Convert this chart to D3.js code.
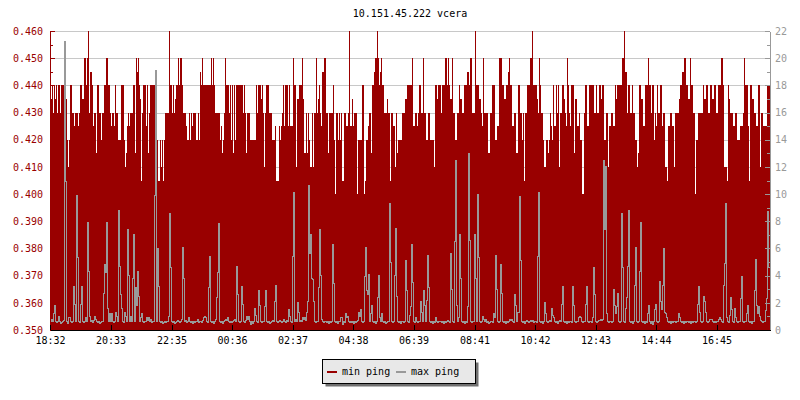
<!DOCTYPE html>
<html><head><meta charset="utf-8">
<script src="https://cdn.jsdelivr.net/npm/d3@7"></script>
<style>
body{margin:0;background:#fff}
svg{display:block}
text{font-family:"DejaVu Sans Mono",monospace;font-size:10px}
</style>
</head><body>
<svg id="chart" width="800" height="400"></svg>
<script>
const chartTitle = "10.151.45.222 vcera";
const startLabel = "18:32";
const sampleMinutes = 2;
const xTickLabels = ["18:32","20:33","22:35","00:36","02:37","04:38","06:39","08:41","10:42","12:43","14:44","16:45"];
const leftTicks = [0.35,0.36,0.37,0.38,0.39,0.40,0.41,0.42,0.43,0.44,0.45,0.46];
const rightTicks = [0,2,4,6,8,10,12,14,16,18,20,22];
const seriesNames = ["min ping","max ping"];

// min ping (ms), one value per sample
const minPing = [
.44,.435,.44,.43,.44,.435,.44,.43,.44,.44,.43,.44,.44,.44,.44,.435,.435,.42,.41,.42,.44,.44,.43,.43,.425,.43,.43,.43,.425,.43,
.44,.44,.435,.435,.45,.45,.44,.45,.46,.43,.445,.445,.44,.425,.43,.43,.415,.44,.44,.43,.43,.42,.43,.43,.44,.44,.45,.45,.44,.44,
.43,.425,.43,.43,.425,.44,.43,.43,.42,.42,.42,.44,.44,.44,.42,.41,.415,.425,.43,.425,.43,.43,.43,.44,.44,.415,.45,.445,.45,.44,
.435,.405,.43,.44,.44,.44,.425,.44,.415,.43,.44,.44,.44,.44,.44,.43,.41,.42,.405,.405,.42,.41,.42,.405,.42,.43,.43,.43,.43,.46,
.44,.44,.43,.44,.43,.435,.44,.44,.45,.44,.45,.45,.44,.43,.43,.43,.425,.42,.42,.43,.42,.43,.425,.43,.43,.43,.42,.42,.43,.42,
.445,.44,.45,.44,.44,.44,.44,.44,.44,.44,.44,.45,.44,.45,.44,.43,.43,.43,.43,.43,.42,.425,.415,.42,.43,.45,.44,.44,.44,.43,
.44,.42,.44,.415,.44,.42,.44,.44,.44,.44,.44,.44,.44,.43,.44,.43,.415,.43,.43,.43,.42,.42,.42,.42,.42,.42,.44,.43,.44,.44,
.44,.435,.44,.43,.41,.43,.44,.44,.44,.43,.43,.43,.42,.42,.42,.425,.405,.405,.405,.425,.42,.425,.43,.44,.425,.44,.44,.44,.425,.44,
.425,.425,.425,.45,.44,.44,.41,.435,.435,.44,.44,.44,.45,.435,.415,.415,.43,.415,.43,.42,.41,.41,.43,.41,.43,.43,.45,.43,.435,.44,
.43,.425,.445,.445,.45,.45,.43,.43,.415,.43,.43,.43,.43,.44,.42,.40,.43,.43,.42,.43,.42,.43,.405,.405,.43,.43,.425,.425,.43,.46,
.425,.425,.435,.425,.43,.43,.43,.40,.42,.42,.42,.42,.44,.44,.40,.405,.42,.42,.425,.43,.43,.415,.44,.44,.445,.45,.45,.46,.45,.44,
.445,.45,.44,.44,.43,.43,.43,.435,.43,.43,.405,.43,.43,.425,.425,.41,.43,.415,.42,.42,.42,.42,.43,.43,.43,.435,.435,.44,.44,.44,
.44,.44,.45,.425,.425,.43,.43,.425,.43,.44,.44,.43,.43,.45,.43,.43,.42,.42,.43,.43,.42,.42,.42,.42,.41,.44,.44,.435,.44,.44,
.44,.43,.44,.44,.44,.45,.45,.44,.45,.44,.435,.435,.45,.43,.43,.42,.42,.43,.43,.44,.435,.435,.43,.43,.44,.44,.44,.445,.445,.44,
.45,.45,.43,.43,.43,.46,.44,.44,.44,.435,.435,.43,.425,.45,.43,.43,.43,.43,.415,.415,.43,.43,.44,.44,.44,.42,.42,.425,.425,.45,
.45,.45,.44,.44,.435,.435,.44,.44,.445,.45,.44,.44,.425,.425,.43,.43,.415,.415,.44,.44,.43,.43,.42,.43,.405,.43,.43,.44,.44,.44,
.45,.45,.46,.44,.44,.44,.44,.435,.43,.45,.44,.43,.43,.42,.41,.41,.42,.42,.415,.42,.43,.425,.42,.44,.425,.425,.44,.43,.44,.41,
.43,.43,.44,.44,.435,.43,.425,.45,.44,.43,.425,.44,.44,.44,.415,.435,.435,.425,.425,.43,.42,.42,.40,.40,.43,.44,.44,.425,.425,.44,
.44,.44,.44,.44,.43,.43,.44,.43,.43,.44,.44,.435,.44,.44,.42,.42,.43,.43,.41,.425,.425,.43,.43,.425,.425,.44,.435,.44,.44,.44,
.44,.44,.45,.45,.46,.445,.445,.43,.44,.44,.43,.43,.44,.43,.43,.42,.42,.41,.415,.44,.44,.435,.435,.425,.425,.44,.44,.44,.45,.44,
.44,.43,.44,.44,.42,.43,.425,.44,.43,.43,.44,.44,.425,.43,.43,.41,.41,.405,.425,.425,.43,.43,.425,.425,.41,.43,.43,.43,.43,.435,
.44,.44,.445,.445,.45,.45,.44,.44,.435,.435,.45,.44,.44,.43,.43,.40,.42,.42,.43,.43,.43,.43,.43,.44,.435,.435,.44,.44,.43,.43,
.44,.44,.435,.435,.44,.44,.43,.43,.44,.44,.44,.45,.45,.44,.41,.41,.41,.405,.44,.435,.43,.43,.43,.425,.425,.43,.43,.42,.42,.42,
.425,.425,.425,.43,.45,.44,.44,.44,.425,.405,.44,.44,.435,.435,.43,.43,.425,.425,.44,.44,.41,.43,.43,.425,.425,.425,.425,.44,.44,.44
];

// max ping (ms), one value per sample
const maxPing = [
.6,.8,.6,1.2,1.8,.6,.55,.6,1.0,.6,.5,.55,.6,.7,21.2,10.9,.6,.5,.9,.9,.6,.55,.6,3.2,1.9,.6,9.9,5.3,.6,.55,
1.9,3.2,.6,.55,.6,.9,.6,7.9,4.3,1.0,.6,.7,.55,.7,1.0,.8,.6,.55,.6,.5,.55,.6,.6,2.7,4.8,4.2,7.9,1.6,.6,1.2,
.6,1.2,.6,.55,.6,1.3,1.0,.6,8.8,4.7,2.6,1.6,.6,.55,1.3,1.0,.6,7.4,4.0,.6,1.0,.6,3.8,7.0,.6,3.1,1.8,4.3,2.5,.6,
.9,1.2,.6,.55,.6,.6,.9,.7,.9,.6,.8,.55,.6,.6,9.9,19.1,.6,6.0,3.2,.6,.55,.6,.5,.55,.6,.55,.6,.6,1.0,8.6,
4.6,.6,.55,.6,.5,.55,.6,.7,.6,.55,.6,.8,6.1,3.8,.6,.7,.55,.6,.9,.6,.55,.6,.5,.6,.55,.6,.6,.8,.55,.6,
.6,.55,.7,.9,1.0,.9,.6,.55,3.1,5.4,.6,.55,.6,.5,.6,.8,2.4,4.2,7.8,.6,.55,.6,.5,.6,.7,.8,.7,.9,.6,.55,
.6,.55,.6,.7,.8,.6,4.7,2.6,.6,.55,.6,3.2,1.9,.6,.55,.7,1.0,.8,1.0,.6,.4,.6,.5,.6,1.6,1.1,.6,.55,2.9,1.8,
.6,.55,.6,.6,1.7,2.9,.6,.55,.6,.5,.55,.6,.7,.6,2.1,3.3,.6,.55,.6,.7,.6,.55,.6,.8,.6,.55,.7,.6,1.5,1.0,
.6,.55,5.4,10.1,.6,.8,.6,2.0,1.3,.6,.7,.6,.9,.8,.9,.7,1.3,2.1,10.6,5.6,7.0,3.8,3.7,2.1,.6,.55,.6,.6,3.1,7.4,
4.0,.8,.6,.55,.6,.6,.55,.6,.5,.6,.55,.6,6.3,3.4,.6,.55,.6,.5,.6,.6,.9,.9,.4,.6,.55,1.2,.9,1.0,.6,.55,
.6,.55,.6,.5,.6,.55,.6,.7,1.3,1.0,1.5,.6,.55,.6,3.9,6.1,2.9,2.6,4.1,.6,1.2,1.8,.6,.55,.6,.5,.6,2.4,4.0,.9,
.6,1.2,.6,.55,.6,.5,.55,.6,.6,9.3,5.0,.6,.55,.6,4.0,7.5,2.5,.6,.55,.6,.5,.6,.6,.55,.6,5.1,2.9,.6,.55,1.1,
1.7,6.3,3.5,.6,.55,.9,.6,.55,.6,.6,2.1,1.3,.6,2.9,1.8,.6,2.2,5.5,3.1,.6,.55,.6,.5,.6,.55,.9,.6,.55,.6,.6,
.6,.55,.6,.5,.6,.55,.6,.7,.6,.55,5.6,3.0,.6,.55,6.5,12.5,1.8,.6,.9,7.0,3.8,.6,.55,.6,.5,.6,.55,1.7,13.0,6.6,
.6,.55,.6,.6,7.0,3.8,.6,10.0,5.3,.6,.55,.6,1.0,.8,.6,.8,.55,.6,.5,.55,.6,.6,.55,1.2,.9,5.5,3.0,.6,.55,.6,
4.8,2.7,.6,.55,.6,.5,.6,.55,.6,.8,.7,.8,.6,.55,2.6,1.8,.6,1.3,1.3,9.8,5.1,.6,.55,.6,.5,.6,.7,.6,.55,.6,
.7,.6,.7,.55,.6,.6,.55,5.4,10.1,.6,.55,.6,.5,.6,2.0,1.25,.6,.55,.6,.7,.6,1.6,1.1,.9,.6,.55,.6,.5,.6,.7,
.6,1.9,3.2,.6,.55,.6,.5,.6,.55,.6,.6,.55,3.2,1.8,.6,.55,.6,.6,.9,1.0,.9,.6,.55,.6,.6,1.9,3.2,.6,.55,.6,
.6,.55,.9,4.6,2.6,.6,.55,.6,.7,.7,.8,.7,.8,12.5,7.4,12.0,1.25,.6,.55,.6,.6,.55,.6,3.0,1.8,1.2,1.7,2.7,.6,.55,
.6,8.6,4.6,.6,.55,1.6,2.4,4.7,8.8,.6,.55,.6,.5,.6,3.3,6.1,.6,.55,.6,4.3,7.9,.6,.55,.6,.5,.6,.55,1.2,1.8,.6,
.5,.6,.4,.6,1.5,1.9,.6,.55,.6,3.6,2.1,1.5,3.3,6.0,1.3,1.2,.9,.6,.55,.6,.5,.6,.55,.6,.6,.55,.6,.6,1.25,.9,
.6,.55,.6,.5,.6,.55,.6,.6,.55,.6,.5,.6,.55,.6,.6,.55,.6,1.9,3.2,1.3,.6,.55,.6,2.5,2.1,1.3,.6,.55,.6,.8,
.8,.8,.6,.55,.6,.55,.6,.6,.8,.9,.8,.6,.55,3.3,4.9,9.3,.9,.6,.55,1.1,2.4,1.5,.6,.55,1.6,.9,.6,.55,.6,.6,
2.3,3.9,.6,.55,.6,.6,1.2,1.8,.6,.55,.6,.5,.6,.6,2.9,5.2,1.8,1.2,1.7,1.0,.7,.6,.55,.6,.6,1.4,2.3,8.75,4.6,4.6
];

const RED = "#990000", GREY = "#999999";
const svg = d3.select("#chart");
const L = 50, R = 770, T = 31, B = 330;

const [sh, sm] = startLabel.split(":").map(Number);
const t0 = new Date(2020, 0, 1, sh, sm);
const stepMs = sampleMinutes * 60000;
const tEnd = new Date(t0.getTime() + minPing.length * stepMs);

const x = d3.scaleTime().domain([t0, tEnd]).range([L, R]);
const yL = d3.scaleLinear().domain([0.35, 0.46]).range([B, T]);
const yR = d3.scaleLinear().domain([0, 22]).range([B, T]);

// tick dates (rolling over midnight)
let day = 1, prevH = -1;
const tickDates = xTickLabels.map(s => {
  const [h, m] = s.split(":").map(Number);
  if (h < prevH) day++;
  prevH = h;
  return new Date(2020, 0, day, h, m);
});

// title
svg.append("text").attr("x", 410).attr("y", 17).attr("text-anchor", "middle")
  .attr("fill", "#000").text(chartTitle);

// grid
svg.append("g").selectAll("line").data(leftTicks).join("line")
  .attr("x1", L).attr("x2", R)
  .attr("y1", d => Math.round(yL(d)) + 0.5).attr("y2", d => Math.round(yL(d)) + 0.5)
  .attr("stroke", "#c8c8c8").attr("stroke-width", 1);

// min ping area (step)
const minPts = minPing.map((v, i) => ({t: new Date(t0.getTime() + i * stepMs), v}));
minPts.push({t: tEnd, v: minPing[minPing.length - 1]});
svg.append("path").datum(minPts)
  .attr("d", d3.area().x(d => x(d.t)).y0(yL(0.35)).y1(d => yL(d.v)).curve(d3.curveStepAfter))
  .attr("fill", RED).attr("shape-rendering", "crispEdges");

// max ping line (step)
const maxPts = maxPing.map((v, i) => ({t: new Date(t0.getTime() + i * stepMs), v}));
maxPts.push({t: tEnd, v: maxPing[maxPing.length - 1]});
svg.append("path").datum(maxPts)
  .attr("d", d3.line().x(d => x(d.t)).y(d => yR(d.v)).curve(d3.curveStepAfter))
  .attr("fill", "none").attr("stroke", GREY).attr("stroke-width", 1)
  .attr("shape-rendering", "crispEdges");

// left axis
const minorL = d3.range(0.355, 0.46, 0.01);
svg.append("g").attr("transform", `translate(${L},0)`).attr("color", RED)
  .call(d3.axisLeft(yL).tickValues(minorL).tickFormat("").tickSize(-3).tickSizeOuter(0))
  .call(g => g.select(".domain").remove());
svg.append("g").attr("transform", `translate(${L},0)`).attr("color", RED)
  .call(d3.axisLeft(yL).tickValues(leftTicks).tickFormat(d3.format(".3f")).tickSize(-5).tickSizeOuter(0).tickPadding(7))
  .call(g => g.selectAll("text").attr("font-size", null));

// right axis
const minorR = d3.range(1, 22, 2);
svg.append("g").attr("transform", `translate(${R},0)`).attr("color", GREY)
  .call(d3.axisRight(yR).tickValues(minorR).tickFormat("").tickSize(-3).tickSizeOuter(0))
  .call(g => g.select(".domain").remove());
svg.append("g").attr("transform", `translate(${R},0)`).attr("color", GREY)
  .call(d3.axisRight(yR).tickValues(rightTicks).tickFormat(d3.format("d")).tickSize(-5).tickSizeOuter(0).tickPadding(5))
  .call(g => g.selectAll("text").attr("font-size", null));

// bottom axis
svg.append("g").attr("transform", `translate(0,${B})`).attr("color", "#000")
  .call(d3.axisBottom(x).tickValues(tickDates).tickFormat(d3.timeFormat("%H:%M")).tickSize(-5).tickSizeOuter(0).tickPadding(7))
  .call(g => g.selectAll("text").attr("font-size", null));

svg.selectAll(".tick line, .domain").attr("shape-rendering", "crispEdges");
svg.selectAll("g").attr("font-family", null).attr("font-size", null);

// legend
const lg = svg.append("g");
lg.append("rect").attr("x", 325.5).attr("y", 362.5).attr("width", 153).attr("height", 24).attr("fill", "#707070");
lg.append("rect").attr("x", 322.5).attr("y", 359.5).attr("width", 153).attr("height", 24)
  .attr("fill", "#e8e8e8").attr("stroke", "#000").attr("stroke-width", 1);
const legendItems = [{name: seriesNames[0], color: RED, x: 327}, {name: seriesNames[1], color: GREY, x: 396}];
legendItems.forEach(it => {
  lg.append("line").attr("x1", it.x).attr("x2", it.x + 10).attr("y1", 372).attr("y2", 372)
    .attr("stroke", it.color).attr("stroke-width", 2);
  lg.append("text").attr("x", it.x + 15).attr("y", 375).attr("fill", "#000").text(it.name);
});
</script>
</body></html>
